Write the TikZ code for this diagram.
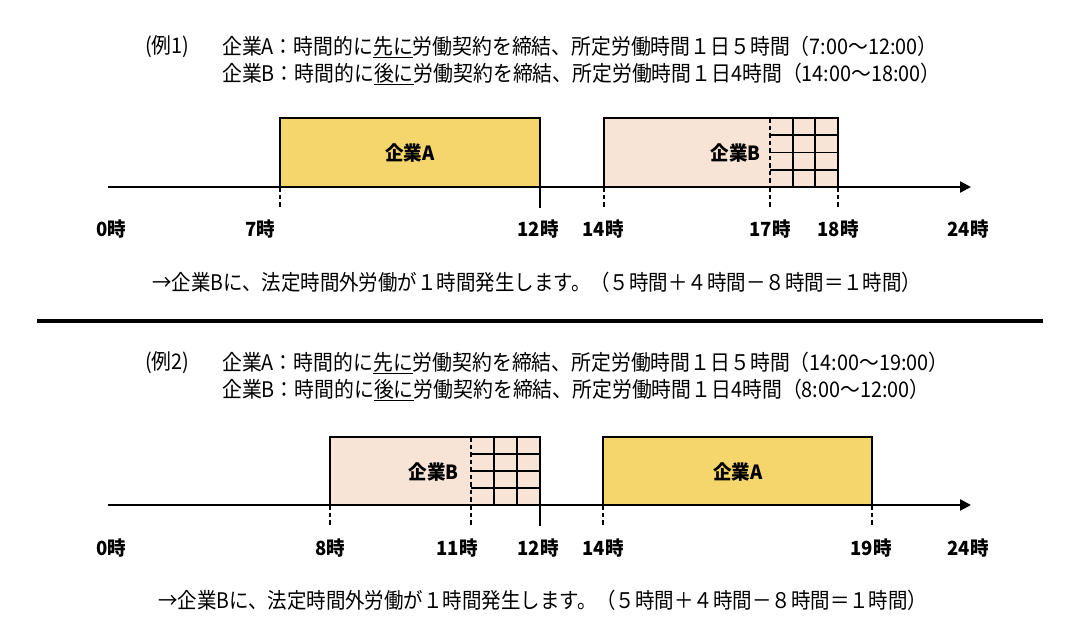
\documentclass[tikz,border=0pt]{standalone}
\usepackage{fontspec}
\setmainfont{Noto Sans CJK JP}
\newfontfamily\titlefont[FakeStretch=0.923]{Noto Sans CJK JP}
\newfontfamily\notefont[FakeStretch=0.905]{Noto Sans CJK JP}
\newfontfamily\labfont[FakeStretch=0.95]{Noto Sans CJK JP}
\usetikzlibrary{arrows.meta}
\definecolor{yelA}{RGB}{245,214,108}
\definecolor{peachB}{RGB}{248,228,214}
\begin{document}
\begin{tikzpicture}[x=1pt,y=-1pt,
  title/.style={font=\titlefont\fontsize{21.5}{24}\selectfont, anchor=west, inner sep=0pt},
  note/.style={font=\notefont\fontsize{21.5}{24}\selectfont, anchor=west, inner sep=0pt},
  lab/.style={font=\labfont\fontsize{19.5}{22}\selectfont\bfseries, inner sep=0pt},
  boxlab/.style={font=\labfont\fontsize{19.5}{22}\selectfont\bfseries, inner sep=0pt},
  boxA/.style={draw, line width=1.5pt, fill=yelA, inner sep=0pt, outer sep=0pt, anchor=north west},
  boxB/.style={draw, line width=1.5pt, fill=peachB, inner sep=0pt, outer sep=0pt, anchor=north west},
  axisline/.style={line width=2.4pt, -{Triangle[length=11pt,width=11pt]}},
  dtick/.style={line width=1.5pt, dash pattern=on 4.5pt off 3pt},
  stick/.style={line width=1.5pt},
  gridline/.style={line width=1.7pt},
  sepline/.style={line width=4pt}
]
\useasboundingbox (0,0) rectangle (1080,643);

% ===== Example 1 =====
\node[title] (t1a) at (145,47) {(例1)};
\node[title] (t1b) at (222,47) {企業A：時間的に\underline{先に}労働契約を締結、所定労働時間１日５時間（7:00～12:00）};
\node[title] (t1c) at (222,74) {企業B：時間的に\underline{後に}労働契約を締結、所定労働時間１日4時間（14:00～18:00）};

\node[boxA, minimum width=260pt, minimum height=69pt] (A1) at (280,118) {};
\node[boxlab] (A1l) at (410,153) {企業A};
\node[boxB, minimum width=234pt, minimum height=69pt] (B1) at (604,118) {};
\node[boxlab, anchor=east] (B1l) at (761,153) {企業B};
% overtime grid
\draw[dtick] (770,118) -- (770,187);
\draw[gridline] (792.7,118) -- (792.7,187);
\draw[gridline] (815.3,118) -- (815.3,187);
\draw[gridline] (770,135.25) -- (838,135.25);
\draw[gridline] (770,152.5) -- (838,152.5);
\draw[gridline] (770,169.75) -- (838,169.75);

\coordinate (ax1s) at (108,187);
\coordinate (ax1e) at (971,187);
\draw[axisline] (ax1s) -- (ax1e);

\coordinate (k1a) at (280,208);
\coordinate (k1b) at (540,208);
\coordinate (k1c) at (604,208);
\coordinate (k1d) at (770,208);
\coordinate (k1e) at (838,208);
\draw[dtick] (A1.south west) -- (k1a);
\draw[stick] (A1.south east) -- (k1b);
\draw[dtick] (B1.south west) -- (k1c);
\draw[dtick] (770,187) -- (k1d);
\draw[dtick] (B1.south east) -- (k1e);

\node[lab] (l1a) at (111,229) {0時};
\node[lab] (l1b) at (260,229) {7時};
\node[lab] (l1c) at (538,229) {12時};
\node[lab] (l1d) at (603,229) {14時};
\node[lab] (l1e) at (770,229) {17時};
\node[lab] (l1f) at (838,229) {18時};
\node[lab] (l1g) at (968,229) {24時};

\node[note] (n1) at (152,282) {→企業Bに、法定時間外労働が１時間発生します。（５時間＋４時間－８時間＝１時間）};

\coordinate (s1) at (37,321);
\coordinate (s2) at (1043,321);
\draw[sepline] (s1) -- (s2);

% ===== Example 2 =====
\node[title] (t2a) at (145,363) {(例2)};
\node[title] (t2b) at (222,363) {企業A：時間的に\underline{先に}労働契約を締結、所定労働時間１日５時間（14:00～19:00）};
\node[title] (t2c) at (222,390) {企業B：時間的に\underline{後に}労働契約を締結、所定労働時間１日4時間（8:00～12:00）};

\node[boxB, minimum width=210pt, minimum height=68pt] (B2) at (330,437) {};
\node[boxlab, anchor=east] (B2l) at (459,472) {企業B};
\draw[dtick] (471,437) -- (471,505);
\draw[gridline] (494,437) -- (494,505);
\draw[gridline] (517,437) -- (517,505);
\draw[gridline] (471,454) -- (540,454);
\draw[gridline] (471,471) -- (540,471);
\draw[gridline] (471,488) -- (540,488);
\node[boxA, minimum width=269pt, minimum height=68pt] (A2) at (603,437) {};
\node[boxlab] (A2l) at (738,472) {企業A};

\coordinate (ax2s) at (108,505);
\coordinate (ax2e) at (971,505);
\draw[axisline] (ax2s) -- (ax2e);

\coordinate (k2a) at (330,526);
\coordinate (k2b) at (471,526);
\coordinate (k2c) at (540,526);
\coordinate (k2d) at (603,526);
\coordinate (k2e) at (872,526);
\draw[dtick] (B2.south west) -- (k2a);
\draw[dtick] (471,505) -- (k2b);
\draw[stick] (B2.south east) -- (k2c);
\draw[dtick] (A2.south west) -- (k2d);
\draw[dtick] (A2.south east) -- (k2e);

\node[lab] (l2a) at (111,548) {0時};
\node[lab] (l2b) at (330,548) {8時};
\node[lab] (l2c) at (457,548) {11時};
\node[lab] (l2d) at (538,548) {12時};
\node[lab] (l2e) at (603,548) {14時};
\node[lab] (l2f) at (871,548) {19時};
\node[lab] (l2g) at (968,548) {24時};

\node[note] (n2) at (158,600) {→企業Bに、法定時間外労働が１時間発生します。（５時間＋４時間－８時間＝１時間）};
\end{tikzpicture}
\end{document}
